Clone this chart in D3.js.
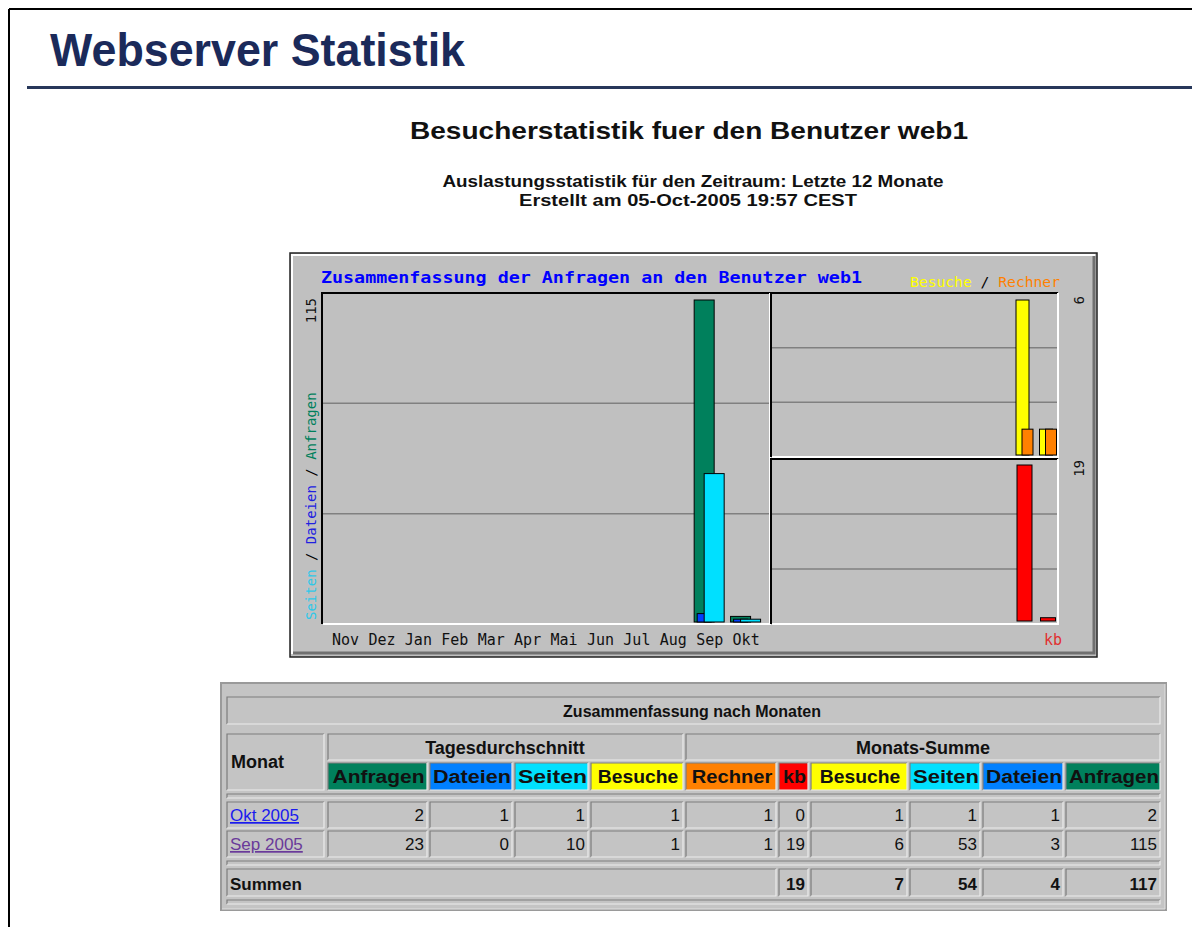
<!DOCTYPE html>
<meta charset="utf-8">
<style>
body { margin: 0; background: #fff; }
svg { display: block; }
.sans { font-family: "Liberation Sans", Arial, sans-serif; }
.mono { font-family: "DejaVu Sans Mono", monospace; }
</style>
<body>
<svg width="1192" height="927"></svg>
</body>
<script src="https://d3js.org/d3.v7.min.js"></script>
<script>

// ---- data ----
var months   = ["Nov","Dez","Jan","Feb","Mar","Apr","Mai","Jun","Jul","Aug","Sep","Okt"];
var anfragen = [0,0,0,0,0,0,0,0,0,0,115,2];
var dateien  = [0,0,0,0,0,0,0,0,0,0,3,1];
var seiten   = [0,0,0,0,0,0,0,0,0,0,53,1];
var besuche  = [0,0,0,0,0,0,0,0,0,0,6,1];
var rechner  = [0,0,0,0,0,0,0,0,0,0,1,1];
var kbytes   = [0,0,0,0,0,0,0,0,0,0,19,0.4];

var tableMonths = ["Okt 2005","Sep 2005"];
var tableIndex  = [11, 10];
var avgAnfragen = [2, 23];
var avgDateien  = [1, 0];
var avgSeiten   = [1, 10];
var avgBesuche  = [1, 1];

var colAnfragen = "#00805c", colDateien = "#0040ff", colSeiten = "#00e0ff",
    colBesuche = "#ffff00", colRechner = "#ff8000", colKb = "#ff0000";

var svg = d3.select("svg");

// ---- page frame and headings ----
svg.append("line").attr("x1", 9).attr("y1", 9).attr("x2", 1192).attr("y2", 9)
    .attr("stroke", "#000").attr("stroke-width", 2);
svg.append("line").attr("x1", 9).attr("y1", 9).attr("x2", 9).attr("y2", 927)
    .attr("stroke", "#000").attr("stroke-width", 2);

svg.append("text").attr("class", "sans")
    .attr("x", 50).attr("y", 66)
    .attr("font-size", 46).attr("font-weight", "bold")
    .attr("fill", "#1b2a5a")
    .attr("textLength", 415).attr("lengthAdjust", "spacingAndGlyphs")
    .text("Webserver Statistik");
svg.append("rect").attr("x", 27).attr("y", 86).attr("width", 1165).attr("height", 3)
    .attr("fill", "#27375a");

svg.append("text").attr("class", "sans")
    .attr("x", 689).attr("y", 139).attr("text-anchor", "middle")
    .attr("font-size", 24).attr("font-weight", "bold").attr("fill", "#111")
    .attr("textLength", 558).attr("lengthAdjust", "spacingAndGlyphs")
    .text("Besucherstatistik fuer den Benutzer web1");
svg.append("text").attr("class", "sans")
    .attr("x", 693).attr("y", 187).attr("text-anchor", "middle")
    .attr("font-size", 16).attr("font-weight", "bold").attr("fill", "#111")
    .attr("textLength", 501).attr("lengthAdjust", "spacingAndGlyphs")
    .text("Auslastungsstatistik für den Zeitraum: Letzte 12 Monate");
svg.append("text").attr("class", "sans")
    .attr("x", 688).attr("y", 206).attr("text-anchor", "middle")
    .attr("font-size", 16).attr("font-weight", "bold").attr("fill", "#111")
    .attr("textLength", 338).attr("lengthAdjust", "spacingAndGlyphs")
    .text("Erstellt am 05-Oct-2005 19:57 CEST");

// ---- chart image ----
var chart = svg.append("g");
chart.append("rect").attr("x", 290).attr("y", 253).attr("width", 807).attr("height", 404)
    .attr("fill", "#c0c0c0").attr("stroke", "#222").attr("stroke-width", 1.5);
// bevel
chart.append("path").attr("d", "M292,654 L292,255 L1095,255")
    .attr("fill", "none").attr("stroke", "#fff").attr("stroke-width", 2);
chart.append("path").attr("d", "M293,653 L1094,653 L1094,256")
    .attr("fill", "none").attr("stroke", "#707070").attr("stroke-width", 3);

chart.append("text").attr("class", "mono")
    .attr("x", 321).attr("y", 283)
    .attr("font-size", 15).attr("font-weight", "bold").attr("fill", "#0000ff")
    .attr("textLength", 541).attr("lengthAdjust", "spacingAndGlyphs")
    .text("Zusammenfassung der Anfragen an den Benutzer web1");

var leg = chart.append("text").attr("class", "mono")
    .attr("x", 910).attr("y", 287).attr("font-size", 14)
    .attr("textLength", 150).attr("lengthAdjust", "spacingAndGlyphs");
leg.append("tspan").attr("fill", colBesuche).text("Besuche");
leg.append("tspan").attr("fill", "#000").text(" / ");
leg.append("tspan").attr("fill", colRechner).text("Rechner");

// panels
var pMain = {x0: 322, x1: 770, y0: 293, y1: 624};
var pVis  = {x0: 771, x1: 1058, y0: 293, y1: 457};
var pKb   = {x0: 771, x1: 1058, y0: 459, y1: 624};

function panel(p) {
  var g = chart.append("g");
  var h = p.y1 - p.y0;
  g.selectAll("line.grid").data([1, 2]).enter().append("line")
      .attr("x1", p.x0).attr("x2", p.x1)
      .attr("y1", function(d) { return p.y0 + h * d / 3; })
      .attr("y2", function(d) { return p.y0 + h * d / 3; })
      .attr("stroke", "#808080").attr("stroke-width", 1.5);
  g.append("path").attr("d", "M" + p.x0 + "," + p.y1 + " L" + p.x0 + "," + p.y0 + " L" + p.x1 + "," + p.y0)
      .attr("fill", "none").attr("stroke", "#000").attr("stroke-width", 2);
  g.append("path").attr("d", "M" + (p.x0 + 1) + "," + p.y1 + " L" + p.x1 + "," + p.y1 + " L" + p.x1 + "," + p.y0)
      .attr("fill", "none").attr("stroke", "#fff").attr("stroke-width", 2);
  return g;
}
var gMain = panel(pMain), gVis = panel(pVis), gKb = panel(pKb);

var xMain = d3.scaleBand().domain(months).range([330, 767]);
var yMain = d3.scaleLinear().domain([0, d3.max(anfragen)]).range([622, 300]);
var xRight = d3.scaleBand().domain(months).range([781, 1063]);
var yVis = d3.scaleLinear().domain([0, d3.max(besuche)]).range([455, 300]);
var yKb = d3.scaleLinear().domain([0, d3.max(kbytes)]).range([621, 465]);

function bars(g, values, x, y, off, w, color) {
  g.append("g").selectAll("rect")
    .data(values.map(function(v, i) { return {m: months[i], v: v}; }).filter(function(d) { return d.v > 0; }))
    .enter().append("rect")
      .attr("x", function(d) { return x(d.m) + off; })
      .attr("y", function(d) { return y(d.v); })
      .attr("width", w)
      .attr("height", function(d) { return y(0) - y(d.v); })
      .attr("fill", color).attr("stroke", "#000").attr("stroke-width", 1);
}
bars(gMain, anfragen, xMain, yMain, 0, 20, colAnfragen);
bars(gMain, dateien, xMain, yMain, 3, 14, colDateien);
bars(gMain, seiten, xMain, yMain, 10, 20, colSeiten);
bars(gVis, besuche, xRight, yVis, 0, 13, colBesuche);
bars(gVis, rechner, xRight, yVis, 6, 11, colRechner);
bars(gKb, kbytes, xRight, yKb, 1, 15, colKb);

// month labels
chart.append("g").selectAll("text").data(months).enter().append("text")
    .attr("class", "mono")
    .attr("x", function(d) { return xMain(d) + 2; })
    .attr("y", 645).attr("font-size", 15).attr("fill", "#111")
    .text(function(d) { return d; });

// axis labels
function vlabel(x, y, anchor, parts) {
  var t = chart.append("text").attr("class", "mono")
      .attr("transform", "translate(" + x + "," + y + ") rotate(-90)")
      .attr("text-anchor", anchor).attr("font-size", 14);
  parts.forEach(function(p) { t.append("tspan").attr("fill", p[1]).text(p[0]); });
}
vlabel(316, 298, "end", [[String(d3.max(anfragen)), "#111"]]);
vlabel(316, 620, "start", [["Seiten", "#30c8e8"], [" / ", "#000"], ["Dateien", "#2020e0"], [" / ", "#000"], ["Anfragen", colAnfragen]]);
vlabel(1084, 296, "end", [[String(d3.max(besuche)), "#111"]]);
vlabel(1084, 460, "end", [[String(d3.max(kbytes)), "#111"]]);
chart.append("text").attr("class", "mono")
    .attr("x", 1044).attr("y", 645).attr("font-size", 15).attr("fill", "#e03030")
    .text("kb");

// ---- table ----
var tbl = svg.append("g").attr("class", "sans");
tbl.append("rect").attr("x", 221).attr("y", 683).attr("width", 945).attr("height", 227)
    .attr("fill", "#c4c4c4").attr("stroke", "#9a9a9a").attr("stroke-width", 2);
tbl.append("path").attr("d", "M222,909 L1165,909 L1165,684")
    .attr("fill", "none").attr("stroke", "#e0e0e0").attr("stroke-width", 1);

function cell(x0, x1, y0, y1, fill) {
  tbl.append("rect").attr("x", x0).attr("y", y0).attr("width", x1 - x0).attr("height", y1 - y0)
      .attr("fill", fill || "#c4c4c4");
  tbl.append("path").attr("d", "M" + x0 + "," + y1 + " L" + x0 + "," + y0 + " L" + x1 + "," + y0)
      .attr("fill", "none").attr("stroke", "#7c7c7c").attr("stroke-width", 1.2);
  tbl.append("path").attr("d", "M" + x0 + "," + y1 + " L" + x1 + "," + y1 + " L" + x1 + "," + y0)
      .attr("fill", "none").attr("stroke", "#ececec").attr("stroke-width", 1.2);
}
function label(x, y, txt, anchor, opts) {
  opts = opts || {};
  var t = tbl.append("text").attr("x", x).attr("y", y)
      .attr("text-anchor", anchor).attr("font-size", opts.size || 17)
      .attr("font-weight", opts.bold ? "bold" : "normal")
      .attr("fill", opts.color || "#111").text(txt);
  if (opts.underline) t.attr("text-decoration", "underline");
  return t;
}

var cols = [[328,427],[430,512],[515,588],[591,683],[686,776],[779,808],[811,907],[910,980],[983,1063],[1066,1160]];
var colNames = ["Anfragen","Dateien","Seiten","Besuche","Rechner","kb","Besuche","Seiten","Dateien","Anfragen"];
var colFills = ["#00805c","#0080ff","#00e0ff","#ffff00","#ff8000","#ff0000","#ffff00","#00e0ff","#0080ff","#00805c"];

cell(227, 1160, 697, 724);
label(692, 717, "Zusammenfassung nach Monaten", "middle", {bold: true, size: 16});
cell(227, 324, 734, 790);
label(231, 768, "Monat", "start", {bold: true, size: 18});
cell(328, 683, 734, 760);
label(505, 754, "Tagesdurchschnitt", "middle", {bold: true, size: 18});
cell(686, 1160, 734, 760);
label(923, 754, "Monats-Summe", "middle", {bold: true, size: 18});
cols.forEach(function(c, i) {
  cell(c[0], c[1], 763, 790, colFills[i]);
  label((c[0] + c[1]) / 2 + 1, 783, colNames[i], "middle", {bold: true, size: 18})
      .attr("textLength", Math.min(c[1] - c[0] - 4, colNames[i].length * 11.5))
      .attr("lengthAdjust", "spacingAndGlyphs");
});
cell(227, 1160, 794, 798);

var fmt = d3.format(".0f");
var rowY = [[802, 828], [831, 857]];
tableMonths.forEach(function(m, r) {
  var idx = tableIndex[r];
  var vals = [avgAnfragen[r], avgDateien[r], avgSeiten[r], avgBesuche[r],
              rechner[idx], kbytes[idx], besuche[idx], seiten[idx], dateien[idx], anfragen[idx]];
  var y = rowY[r];
  cell(227, 324, y[0], y[1]);
  label(230, y[1] - 7, m, "start", {color: r === 0 ? "#1a1aee" : "#6a3a9a", underline: true});
  cols.forEach(function(c, i) {
    cell(c[0], c[1], y[0], y[1]);
    label(c[1] - 3, y[1] - 7, fmt(vals[i]), "end");
  });
});
cell(227, 1160, 861, 865);

var totals = [d3.sum(kbytes), d3.sum(besuche), d3.sum(seiten), d3.sum(dateien), d3.sum(anfragen)];
cell(227, 776, 869, 896);
label(230, 890, "Summen", "start", {bold: true});
cols.slice(5).forEach(function(c, i) {
  cell(c[0], c[1], 869, 896);
  label(c[1] - 3, 890, fmt(totals[i]), "end", {bold: true});
});
cell(227, 1160, 900, 904);

</script>
</html>
